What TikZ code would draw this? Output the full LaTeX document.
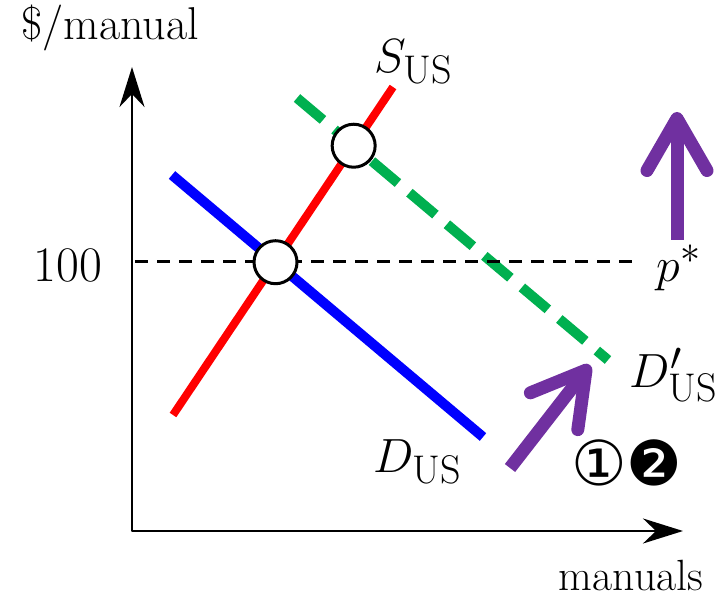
\documentclass[tikz,border=0pt]{standalone}
\usepackage{fontspec}
\newfontfamily\circfont{DejaVu Sans}
\usetikzlibrary{arrows.meta}
\definecolor{supred}{RGB}{255,0,0}
\definecolor{demblue}{RGB}{0,0,255}
\definecolor{shiftgreen}{RGB}{0,176,80}
\definecolor{markpurple}{RGB}{112,48,160}

\begin{document}
\begin{tikzpicture}[x=1pt,y=-1pt,line join=round,
  axisline/.style={line width=2.6pt,{Stealth[length=40pt,width=25pt,inset=13pt]}-{Stealth[length=40pt,width=25pt,inset=13pt]}},
  lbl/.style={font=\Huge,scale=1.85,inner sep=0pt},
  mathlbl/.style={font=\Huge,scale=1.93,inner sep=0pt},
  steplbl/.style={font=\fontsize{62}{66}\selectfont\circfont,inner sep=0pt},
  eqdot/.style={circle,draw,line width=3pt,fill=white,minimum size=43pt,inner sep=0pt},
  shiftarrow/.style={markpurple,line width=13pt,-{Straight Barb[length=52pt,width=60pt,round]}}]
\useasboundingbox (0,0) rectangle (724,599);
% axes
\coordinate (origin) at (132,531);
\coordinate (ytip) at (132,67);
\coordinate (xtip) at (683,531);
\draw[axisline] (ytip) -- (origin) -- (xtip);
\node[lbl] (yname) at (110,28) {\$/manual};
\node[lbl,scale=0.95] (xname) at (631,576) {manuals};
% curves
\coordinate (sLow) at (173,415);
\coordinate (sHigh) at (393,87);
\coordinate (dHigh) at (172,175);
\coordinate (dLow) at (483,437);
\coordinate (dsHigh) at (297,98);
\coordinate (dsLow) at (608,360);
\draw[shiftgreen,line width=10pt,dash pattern=on 34pt off 15pt] (dsHigh) -- (dsLow);
\draw[demblue,line width=10pt] (dHigh) -- (dLow);
\draw[supred,line width=8pt] (sLow) -- (sHigh);
% world price
\coordinate (pstart) at (135,262);
\coordinate (pend) at (636,262);
\draw[line width=3pt,dash pattern=on 13pt off 9pt] (pstart) -- (pend);
\node[lbl,scale=1.08] (priceval) at (68,265) {100};
\node[mathlbl] (plabel) at (679,268) {$p^*$};
% equilibria
\node[eqdot] (eqOld) at (intersection of sLow--sHigh and dHigh--dLow) {};
\node[eqdot] (eqNew) at (intersection of sLow--sHigh and dsHigh--dsLow) {};
\node[mathlbl] (slabel) at (414,62) {$S_{\mathrm{US}}$};
\node[mathlbl] (dlabel) at (418,462) {$D_{\mathrm{US}}$};
\node[mathlbl] (dslabel) at (674,375) {$D'_{\mathrm{US}}$};
% shifts
\coordinate (upfrom) at (677,240);
\coordinate (upto) at (677,112);
\coordinate (diagfrom) at (510,468);
\coordinate (diagto) at (590,365);
\draw[shiftarrow] (upfrom) -- (upto);
\draw[shiftarrow] (diagfrom) -- (diagto);
\node[steplbl] (stepone) at (599,463) {①};
\node[steplbl] (steptwo) at (654,463) {❷};
\end{tikzpicture}
\end{document}
